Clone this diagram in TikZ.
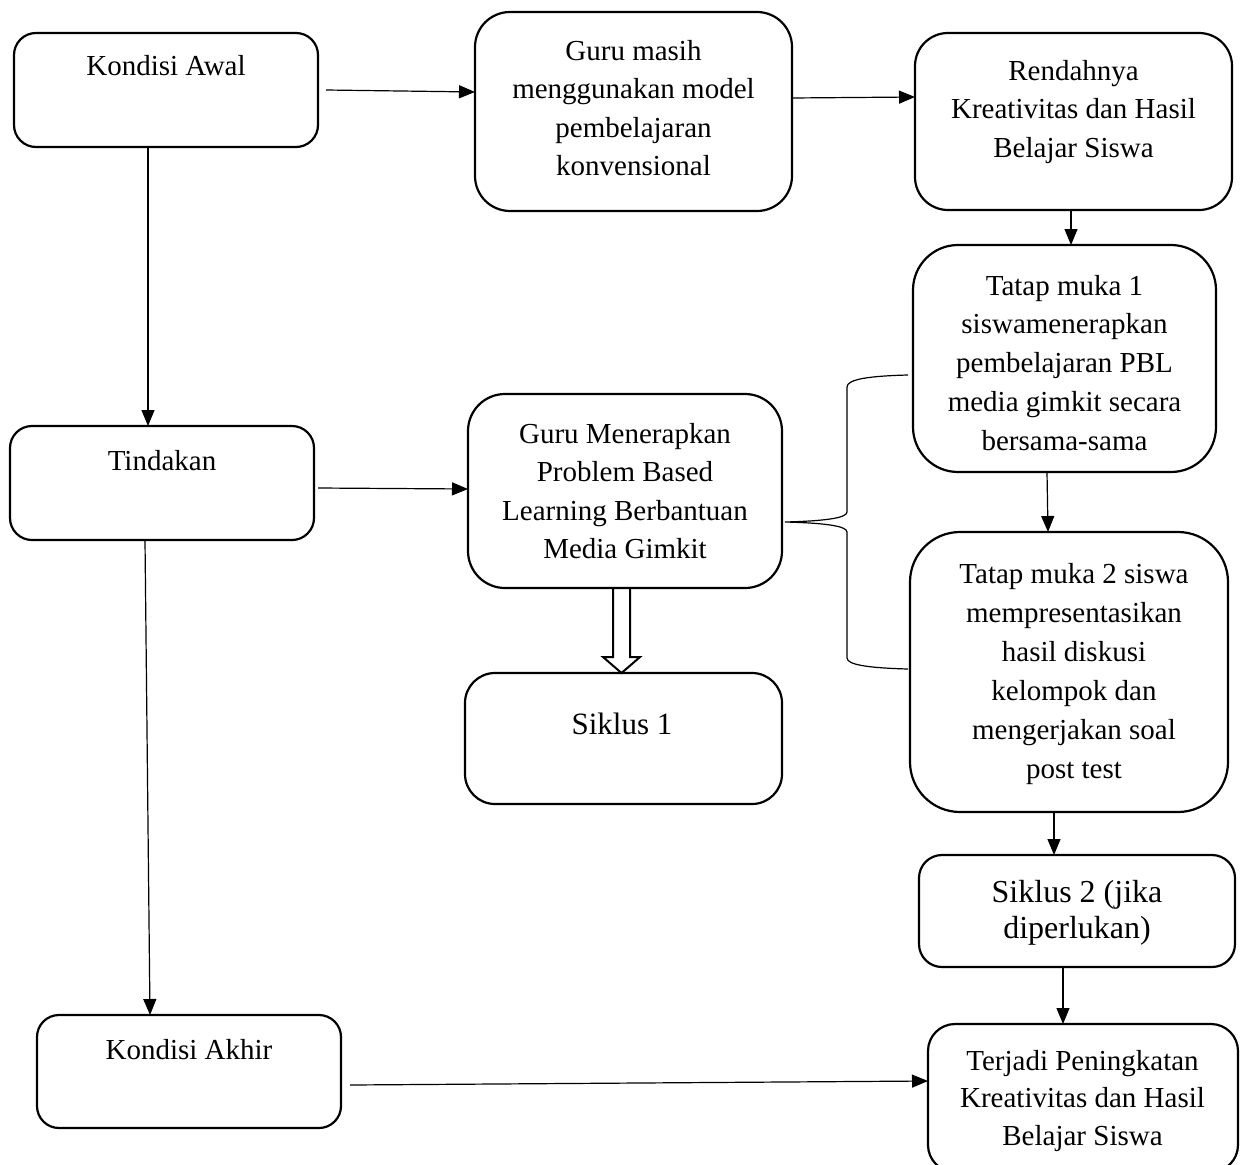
\documentclass[tikz,border=0pt]{standalone}
\usepackage{fontspec}
\setmainfont{Liberation Serif}
\usetikzlibrary{arrows.meta}
\begin{document}
\begin{tikzpicture}[x=1pt,y=-1pt,
  box/.style={draw, line width=2.2pt, inner sep=0pt, outer sep=0pt},
  txt/.style={align=center, font=\fontsize{29}{38.5}\selectfont, inner sep=0pt, anchor=base},
  arr/.style={line width=1.2pt, -{Triangle[length=16pt,width=13pt]}},
  thin/.style={line width=1.2pt}
]
\useasboundingbox (0,0) rectangle (1244,1164);
\clip (0,0) rectangle (1244,1164);
\fill[white] (0,0) rectangle (1244,1164);

% boxes
\node[box, rounded corners=22pt, minimum width=304pt, minimum height=114pt] (b1) at (166,90) {};
\node[box, rounded corners=35pt, minimum width=317pt, minimum height=199pt] (b2) at (633.5,111.5) {};
\node[box, rounded corners=33pt, minimum width=317pt, minimum height=177pt] (b3) at (1073.5,121.5) {};
\node[box, rounded corners=45pt, minimum width=303pt, minimum height=227pt] (b4) at (1064.5,358.5) {};
\node[box, rounded corners=37pt, minimum width=314pt, minimum height=194pt] (b5) at (625,491) {};
\node[box, rounded corners=50pt, minimum width=318pt, minimum height=280pt] (b6) at (1069,672) {};
\node[box, rounded corners=30pt, minimum width=317pt, minimum height=131pt] (b7) at (623.5,738.5) {};
\node[box, rounded corners=23pt, minimum width=316pt, minimum height=112pt] (b8) at (1077,911) {};
\node[box, rounded corners=27pt, minimum width=310pt, minimum height=148pt] (b9) at (1083,1098) {};
\node[box, rounded corners=22pt, minimum width=304pt, minimum height=114pt] (b10) at (162,483) {};
\node[box, rounded corners=22pt, minimum width=304pt, minimum height=113pt] (b11) at (189,1071.5) {};

% texts (anchor = baseline of last line)
\node[txt] (t1) at (166,75) {Kondisi Awal};
\node[txt] (t2) at (633.5,175.5) {Guru masih\\menggunakan model\\pembelajaran\\konvensional};
\node[txt] (t3) at (1073.5,157) {Rendahnya\\Kreativitas dan Hasil\\Belajar Siswa};
\node[txt, font=\fontsize{29}{38.75}\selectfont] (t4) at (1064.5,450) {Tatap muka 1\\siswamenerapkan\\pembelajaran PBL\\media gimkit secara\\bersama-sama};
\node[txt] (t5) at (625,558.5) {Guru Menerapkan\\Problem Based\\Learning Berbantuan\\Media Gimkit};
\node[txt, font=\fontsize{29}{39}\selectfont] (t6) at (1074,778) {Tatap muka 2 siswa\\mempresentasikan\\hasil diskusi\\kelompok dan\\mengerjakan soal\\post test};
\node[txt, font=\fontsize{31}{38}\selectfont] (t7) at (622,734) {Siklus 1};
\node[txt, font=\fontsize{32}{36.5}\selectfont] (t8) at (1077,938.5) {Siklus 2 (jika\\diperlukan)};
\node[txt, font=\fontsize{29}{37.5}\selectfont] (t9) at (1082.5,1145) {Terjadi Peningkatan\\Kreativitas dan Hasil\\Belajar Siswa};
\node[txt] (t10) at (162,470) {Tindakan};
\node[txt] (t11) at (189,1059) {Kondisi Akhir};

% connectors
\draw[arr] ([xshift=8pt]b1.east) -- (b2.west |- 0,92);
\draw[arr] (b2.east |- 0,98) -- (b3.west |- 0,97);
\draw[arr] (b1.south -| 148,0) -- (b10.north -| 148,0);
\draw[arr] ([xshift=4pt]b10.east |- 0,488) -- (b5.west |- 0,489);
\draw[arr] (b10.south -| 145,0) -- (b11.north -| 150,0);
\draw[arr] (350,1085) -- (b9.west |- 0,1081);
\draw[arr] (b3.south -| 1071,0) -- (b4.north -| 1071,0);
\draw[arr] (b4.south -| 1047,0) -- (b6.north -| 1048,0);
\draw[arr] (b6.south -| 1054,0) -- (b8.north -| 1054,0);
\draw[arr] (b8.south -| 1063,0) -- (b9.north -| 1063,0);

% hollow arrow b5 -> b7
\draw[line width=2pt, line join=miter] (b5.south -| 613,0) -- (613,657) -- (603,657) -- (b7.north -| 621.5,0) -- (640,657) -- (630,657) -- (b5.south -| 630,0);

% brace
\coordinate (brtip) at (785,522);
\draw[thin] (908,375) .. controls (870,376) and (847,379) .. (847,387) -- (847,512)
  .. controls (847,518) and (825,521) .. (brtip)
  .. controls (825,523) and (847,526) .. (847,532) -- (847,658)
  .. controls (847,665) and (870,668) .. (908,669);
\end{tikzpicture}
\end{document}
